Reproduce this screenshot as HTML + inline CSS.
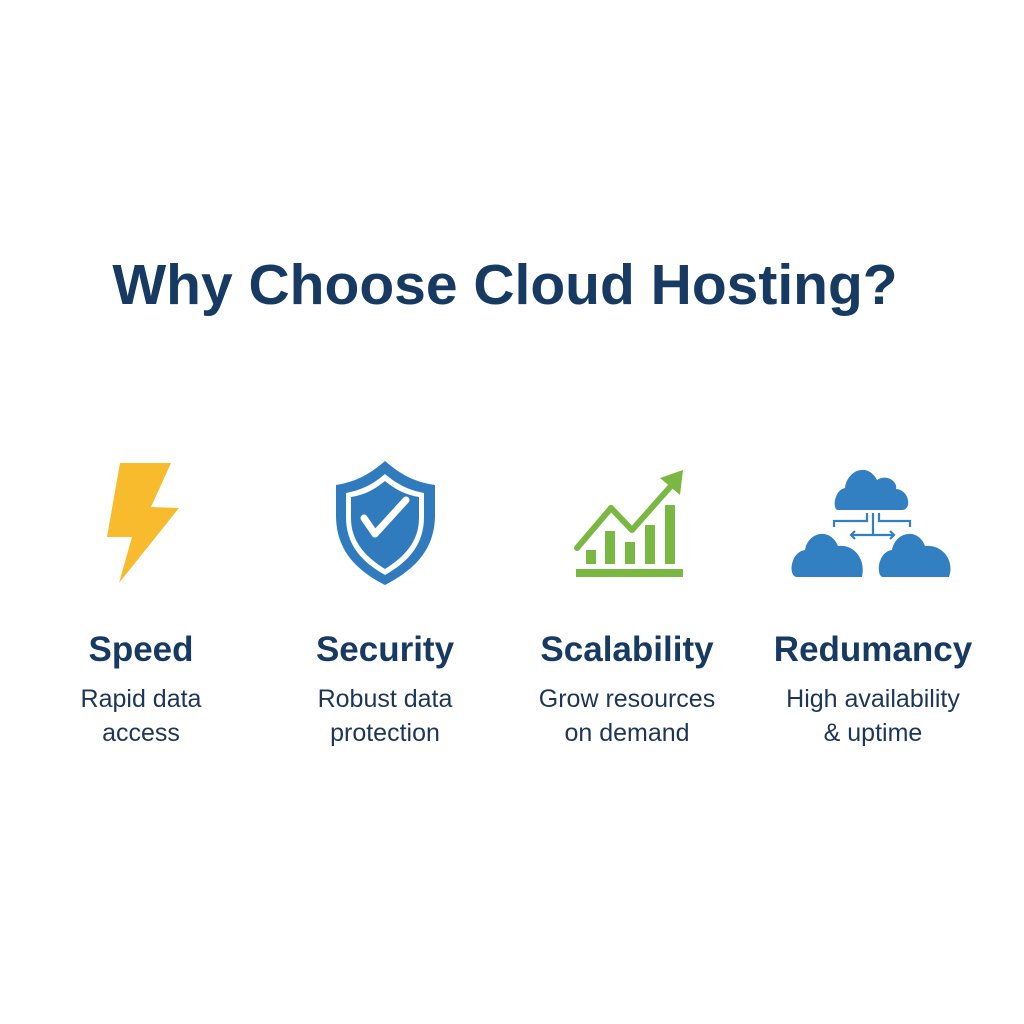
<!DOCTYPE html>
<html><head><style>
body{margin:0;width:1024px;height:1024px;background:#fff;position:relative;font-family:"Liberation Sans",sans-serif;overflow:hidden}
.t{position:absolute;left:0;width:1010px;top:252px;text-align:center;font-size:57px;font-weight:bold;color:#173a63}
.c{position:absolute;width:240px;text-align:center;color:#173a63}
.c b{display:block;font-size:35px;margin-top:0}
.c span{display:block;font-size:25px;line-height:34px;margin-top:12px;color:#1d3557}
</style></head><body>
<div class="t">Why Choose Cloud Hosting?</div>
<svg width="1024" height="1024" style="position:absolute;left:0;top:0">
<polygon points="120,463 171,463 151,507 179,508 119,583 132,537 107,537" fill="#f8bb2e"/>
<path d="M385,461 C370,474 356,482 336,485 L336,515 C336,550 356,570 385,585 C414,570 435,550 435,515 L435,485 C414,482 400,474 385,461Z" fill="#2f7bbd"/>
<path d="M385,474 C372,485 361,490 346,493 L346,517 C346,545 362,562 385,575 C408,562 424,545 424,517 L424,493 C409,490 398,485 385,474Z" fill="#fff"/>
<path d="M385,481 C374,490 364,495 351,497 L351,518 C351,542 366,557 385,569 C404,557 419,542 419,518 L419,497 C406,495 396,490 385,481Z" fill="#2f7bbd"/>
<polyline points="364,518 375,534 406,500" fill="none" stroke="#fff" stroke-width="7" stroke-linecap="round" stroke-linejoin="round"/>
<rect x="576" y="569" width="107" height="8" fill="#7ab843"/>
<rect x="586" y="550" width="10" height="14" fill="#7ab843"/>
<rect x="605" y="531" width="10" height="33" fill="#7ab843"/>
<rect x="625" y="542" width="10" height="22" fill="#7ab843"/>
<rect x="645" y="525" width="10" height="39" fill="#7ab843"/>
<rect x="665" y="505" width="10" height="59" fill="#7ab843"/>
<polyline points="577,548 611,508 632,530 671,486" fill="none" stroke="#7ab843" stroke-width="6" stroke-linecap="round" stroke-linejoin="round"/>
<polygon points="660,478 683,470 680,495" fill="#7ab843"/>
<g fill="#3280c2">
<path d="M838,510 C832,510 834,490 845,488 C847,470 868,462 877,480 C888,473 898,483 896,489 C910,490 912,510 902,510Z"/>
<path d="M797,577 C788,577 790,552 805,550 C808,532 830,527 838,546 C855,544 866,560 862,577Z"/>
<path d="M883,577 C876,577 877,552 892,550 C895,532 918,527 925,546 C942,544 955,560 949,577Z"/>
</g>
<g fill="none" stroke="#3280c2" stroke-width="2.2">
<polyline points="867,513 867,521 834,521 834,527"/>
<polyline points="879,513 879,521 910,521 910,527"/>
<line x1="873" y1="513" x2="873" y2="535"/>
<line x1="851" y1="535" x2="894" y2="535"/>
<polyline points="855,531 851,535 855,539"/>
<polyline points="890,531 894,535 890,539"/>
</g>
</svg>
<div class="c" style="left:21px;top:630px"><b>Speed</b><span>Rapid data<br>access</span></div>
<div class="c" style="left:265px;top:630px"><b>Security</b><span>Robust data<br>protection</span></div>
<div class="c" style="left:507px;top:630px"><b>Scalability</b><span>Grow resources<br>on demand</span></div>
<div class="c" style="left:753px;top:630px"><b>Redumancy</b><span>High availability<br>&amp; uptime</span></div>
</body></html>
